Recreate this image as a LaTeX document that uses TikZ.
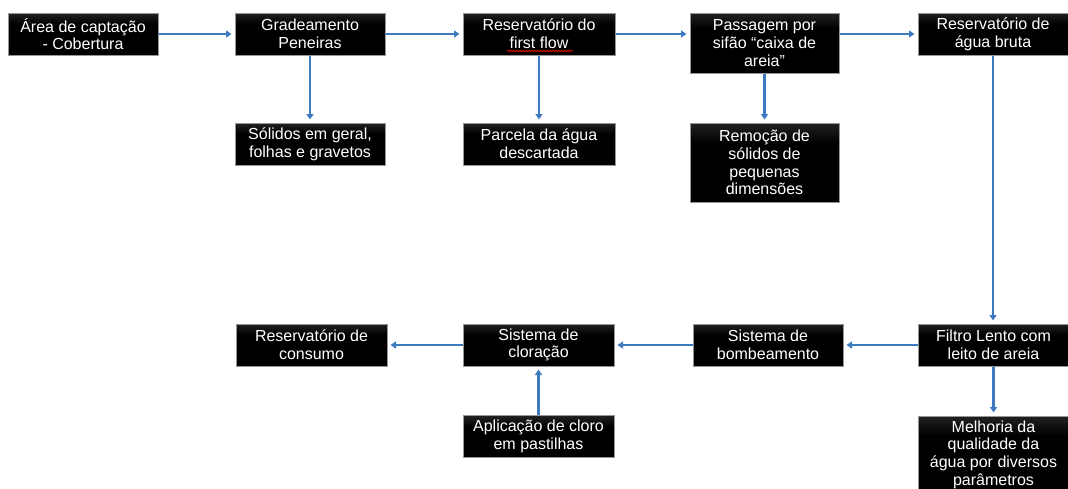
\documentclass[tikz,border=0pt]{standalone}
\usepackage{fontspec}
\setmainfont{Liberation Sans}
\usetikzlibrary{arrows.meta, calc, decorations.pathmorphing}
\definecolor{flowblue}{RGB}{62,122,192}
\definecolor{boxedge}{RGB}{150,150,150}
\pgfdeclareverticalshading{etapashade}{100bp}{color(0bp)=(black); color(62bp)=(black); color(100bp)=(black!62)}

\begin{document}
\begin{tikzpicture}[x=1pt, y=-1pt,
    etapa/.style={draw=boxedge, line width=1pt, shading=etapashade, text=white,
      align=center, font=\fontsize{16}{17.7}\selectfont, inner sep=2pt,
      minimum width=150pt, minimum height=42pt},
    fluxo/.style={draw=flowblue, line width=2.1pt, -{Triangle[length=5.5pt,width=7pt]}, shorten >=3pt}]
    \useasboundingbox (0,0) rectangle (1068,488);

    % --- Top row ---
    \node[etapa] (captacao)     at (83,34)    {Área de captação\\- Cobertura};
    \node[etapa] (gradeamento)  at (310,34)   {Gradeamento\\Peneiras};
    \node[etapa, minimum width=152pt] (firstflow) at (539,34) {Reservatório do\\first flow};
    \node[etapa, minimum width=149pt, minimum height=60pt] (sifao) at (764.5,43) {Passagem por\\sifão “caixa de\\areia”};
    \node[etapa] (bruta)        at (993,34)   {Reservatório de\\água bruta};

    % --- Residues removed ---
    \node[etapa] (solidos)      at (310,144)  {Sólidos em geral,\\folhas e gravetos};
    \node[etapa, minimum width=152pt] (descarte) at (539,144) {Parcela da água\\descartada};
    \node[etapa, minimum width=149pt, minimum height=79pt] (remocao) at (764.5,162.5) {Remoção de\\sólidos de\\pequenas\\dimensões};

    % --- Bottom row ---
    \node[etapa] (filtro)       at (993.5,345) {Filtro Lento com\\leito de areia};
    \node[etapa] (bombeamento)  at (768,345)  {Sistema de\\bombeamento};
    \node[etapa, minimum width=151pt] (cloracao) at (538.5,345) {Sistema de\\cloração};
    \node[etapa, minimum width=151pt] (consumo)  at (311.5,345) {Reservatório de\\consumo};
    \node[etapa, minimum width=151pt] (pastilhas) at (538.5,436.5) {Aplicação de cloro\\em pastilhas};
    \node[etapa, minimum height=77pt] (melhoria) at (993.5,454.5) {Melhoria da\\qualidade da\\água por diversos\\parâmetros};

    % spell-check underline
    \draw[red, line width=0.7pt, decorate, decoration={snake, amplitude=0.9pt, segment length=3pt}]
      ($(firstflow.center)+(-32,17)$) -- ++(66,0);

    % --- Connectors ---
    \draw[fluxo] (captacao) -- (gradeamento);
    \draw[fluxo] (gradeamento) -- (firstflow);
    \draw[fluxo] (firstflow.east |- captacao.east) -- (sifao.west |- captacao.east);
    \draw[fluxo] (sifao.east |- captacao.east) -- (bruta.west);
    \draw[fluxo] (gradeamento) -- (solidos);
    \draw[fluxo] (firstflow) -- (descarte);
    \draw[fluxo] (sifao) -- (remocao);
    \draw[fluxo] (bruta) -- (filtro.north -| bruta);
    \draw[fluxo] (filtro) -- (bombeamento);
    \draw[fluxo] (bombeamento) -- (cloracao);
    \draw[fluxo] (cloracao) -- (consumo);
    \draw[fluxo] (pastilhas) -- (cloracao);
    \draw[fluxo] (filtro) -- (melhoria);
\end{tikzpicture}
\end{document}
